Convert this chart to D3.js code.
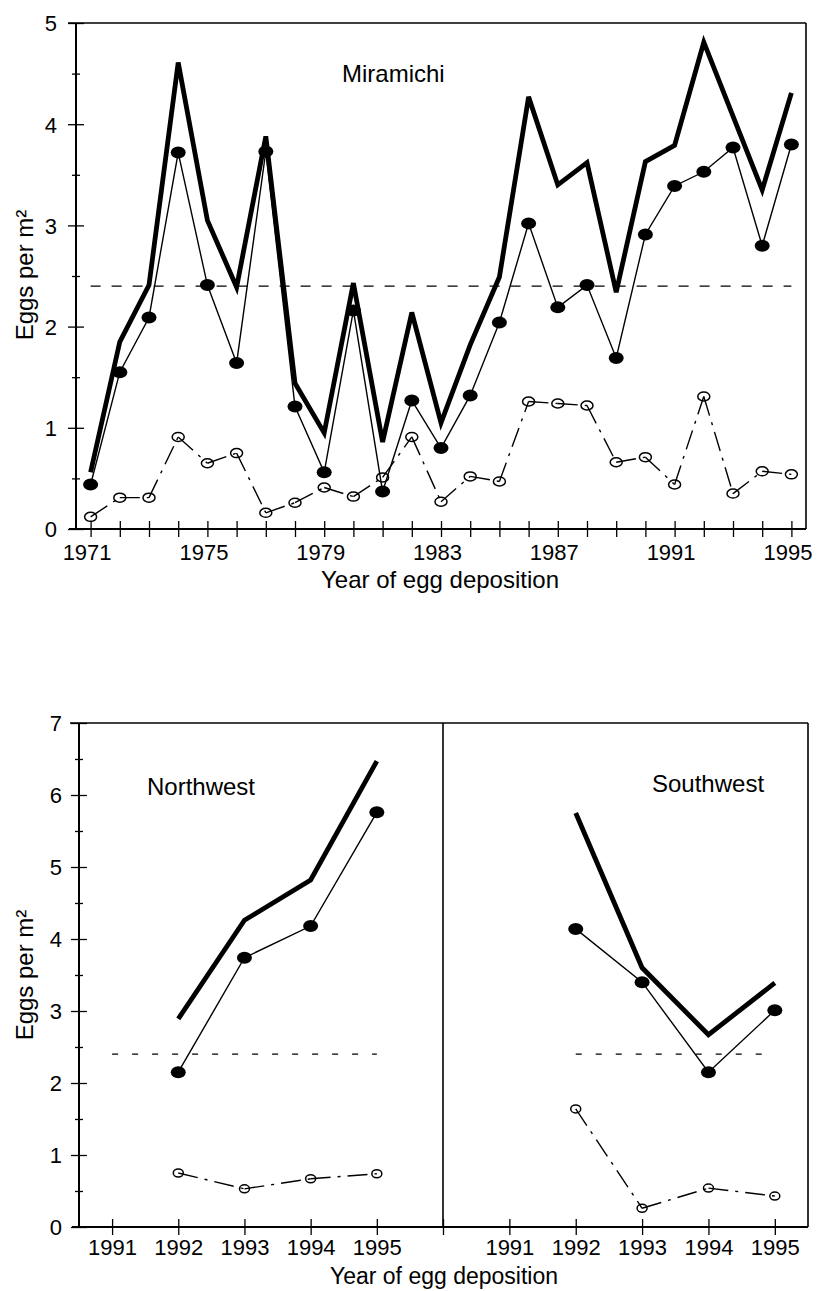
<!DOCTYPE html>
<html>
<head>
<meta charset="utf-8">
<script src="https://cdn.jsdelivr.net/npm/d3@7"></script>
<style>
  body { margin: 0; background: #fff; }
  svg { display: block; font-family: "Liberation Sans", Arial, Helvetica, sans-serif; }
  .tick text { font-size: 22px; fill: #000; }
  .lbl { font-size: 24px; fill: #000; }
</style>
</head>
<body>
<svg id="chart" width="817" height="1291"></svg>
<script>
// Miramichi, 1971-1995
const miraYears = [1971, 1972, 1973, 1974, 1975, 1976, 1977, 1978, 1979, 1980, 1981, 1982, 1983,
  1984, 1985, 1986, 1987, 1988, 1989, 1990, 1991, 1992, 1993, 1994, 1995];
const miraTotal = [0.56, 1.85, 2.41, 4.61, 3.05, 2.39, 3.88, 1.44, 0.95, 2.43, 0.86, 2.14, 1.05,
  1.82, 2.49, 4.27, 3.40, 3.62, 2.34, 3.63, 3.79, 4.81, 4.08, 3.35, 4.31];
const miraFilled = [0.44, 1.55, 2.09, 3.72, 2.41, 1.64, 3.73, 1.21, 0.56, 2.16, 0.37, 1.27, 0.80,
  1.32, 2.04, 3.02, 2.19, 2.41, 1.69, 2.91, 3.39, 3.53, 3.77, 2.80, 3.80];
const miraOpen = [0.12, 0.31, 0.31, 0.91, 0.65, 0.75, 0.16, 0.26, 0.41, 0.32, 0.51, 0.91, 0.27,
  0.52, 0.47, 1.26, 1.24, 1.22, 0.66, 0.71, 0.44, 1.31, 0.35, 0.57, 0.54];
const miraTickLabels = [1971, 1975, 1979, 1983, 1987, 1991, 1995];

// Northwest and Southwest, 1992-1995
const regionYears = [1992, 1993, 1994, 1995];
const nwTotal = [2.89, 4.26, 4.82, 6.47];
const nwFilled = [2.15, 3.74, 4.18, 5.76];
const nwOpen = [0.75, 0.53, 0.67, 0.74];
const swTotal = [5.75, 3.60, 2.67, 3.39];
const swFilled = [4.14, 3.40, 2.15, 3.01];
const swOpen = [1.64, 0.26, 0.54, 0.43];
const regionTickLabels = [1991, 1992, 1993, 1994, 1995];

// reference level (dashed)
const refLevel = 2.4;

const svg = d3.select("#chart");

function crossTicks(axisG, orient, minor) {
  axisG.select(".domain").remove();
  axisG.selectAll(".tick line").each(function(d) {
    const len = minor && !Number.isInteger(d) ? 4 : 8;
    const l = d3.select(this).attr("stroke", "#000").attr("stroke-width", 1.3);
    if (orient === "x") l.attr("y1", -len).attr("y2", len);
    else l.attr("x1", -len).attr("x2", len);
  });
}

function drawSeries(g, x, y, years, total, filled, open, o) {
  const line = d3.line().x((d, i) => x(years[i])).y(d => y(d));

  g.append("path").datum(total)
    .attr("d", line).attr("fill", "none").attr("stroke", "#000")
    .attr("stroke-width", 4.8).attr("stroke-linejoin", "miter");

  g.append("path").datum(filled)
    .attr("d", line).attr("fill", "none").attr("stroke", "#000").attr("stroke-width", 1.4);

  // open series: each segment restarts its dash pattern
  const segs = d3.pairs(open.map((v, i) => [years[i], v]));
  g.selectAll(".oseg").data(segs).enter().append("line")
    .attr("x1", d => x(d[0][0])).attr("y1", d => y(d[0][1]))
    .attr("x2", d => x(d[1][0])).attr("y2", d => y(d[1][1]))
    .attr("stroke", "#000").attr("stroke-width", 1.4)
    .attr("stroke-dasharray", "20,7,3,7");

  g.selectAll(".fdot").data(filled).enter().append("ellipse")
    .attr("cx", (d, i) => x(years[i])).attr("cy", d => y(d))
    .attr("rx", 7.5).attr("ry", 6).attr("fill", "#000");

  g.selectAll(".odot").data(open).enter().append("ellipse")
    .attr("cx", (d, i) => x(years[i])).attr("cy", d => y(d))
    .attr("rx", o.orx).attr("ry", o.ory).attr("fill", "none")
    .attr("stroke", "#000").attr("stroke-width", 1.5);
}

// ---------- top panel: Miramichi ----------
{
  const x = d3.scaleLinear().domain([1970.5, 1995.5]).range([76, 806]);
  const y = d3.scaleLinear().domain([0, 5]).range([529, 23]);
  const g = svg.append("g");

  g.append("line").attr("x1", 68).attr("x2", 806).attr("y1", 23).attr("y2", 23)
    .attr("stroke", "#000").attr("stroke-width", 1.6);
  g.append("line").attr("x1", 806).attr("x2", 806).attr("y1", 23).attr("y2", 529)
    .attr("stroke", "#000").attr("stroke-width", 1.6);
  g.append("line").attr("x1", 69).attr("x2", 806).attr("y1", 529).attr("y2", 529)
    .attr("stroke", "#000").attr("stroke-width", 2);
  g.append("line").attr("x1", 76).attr("x2", 76).attr("y1", 23).attr("y2", 529)
    .attr("stroke", "#000").attr("stroke-width", 2);

  const xa = g.append("g").attr("transform", "translate(0,529)")
    .call(d3.axisBottom(x).tickValues(miraYears).tickSize(8)
      .tickFormat(d => miraTickLabels.includes(d) ? d : ""));
  crossTicks(xa, "x", false);
  xa.selectAll(".tick text").attr("y", 31).attr("dy", 0).attr("dx", -4);

  const ya = g.append("g").attr("transform", "translate(76,0)")
    .call(d3.axisLeft(y).tickValues(d3.range(0, 5.01, 0.5)).tickSize(8)
      .tickFormat(d => Number.isInteger(d) ? d : ""));
  crossTicks(ya, "y", true);
  ya.selectAll(".tick text").attr("x", -19).attr("dy", "0.36em");

  g.append("line")
    .attr("x1", x(1971)).attr("x2", x(1995))
    .attr("y1", y(refLevel)).attr("y2", y(refLevel))
    .attr("stroke", "#000").attr("stroke-width", 1.3).attr("stroke-dasharray", "10,11");

  drawSeries(g, x, y, miraYears, miraTotal, miraFilled, miraOpen, { orx: 6, ory: 4.5 });

  g.append("text").attr("class", "lbl").attr("x", 342).attr("y", 82).text("Miramichi");
  g.append("text").attr("class", "lbl").attr("x", 440).attr("y", 588)
    .attr("text-anchor", "middle").text("Year of egg deposition");
  g.append("text").attr("class", "lbl").attr("text-anchor", "middle")
    .attr("transform", "translate(33,275) rotate(-90)").text("Eggs per m²");
}

// ---------- bottom panels: Northwest / Southwest ----------
{
  const y = d3.scaleLinear().domain([0, 7]).range([1227, 723]);
  const xL = d3.scaleLinear().domain([1990.5, 1996]).range([79, 443]);
  const xR = d3.scaleLinear().domain([1990, 1995.5]).range([443, 808]);
  const g = svg.append("g");

  g.append("line").attr("x1", 70).attr("x2", 808).attr("y1", 723).attr("y2", 723)
    .attr("stroke", "#000").attr("stroke-width", 1.6);
  g.append("line").attr("x1", 808).attr("x2", 808).attr("y1", 723).attr("y2", 1227)
    .attr("stroke", "#000").attr("stroke-width", 1.6);
  g.append("line").attr("x1", 443).attr("x2", 443).attr("y1", 723).attr("y2", 1227)
    .attr("stroke", "#000").attr("stroke-width", 1.6);
  g.append("line").attr("x1", 72).attr("x2", 808).attr("y1", 1227).attr("y2", 1227)
    .attr("stroke", "#000").attr("stroke-width", 2);
  g.append("line").attr("x1", 79).attr("x2", 79).attr("y1", 723).attr("y2", 1227)
    .attr("stroke", "#000").attr("stroke-width", 2);

  const xaL = g.append("g").attr("transform", "translate(0,1227)")
    .call(d3.axisBottom(xL).tickValues(regionTickLabels).tickSize(8).tickFormat(d3.format("d")));
  crossTicks(xaL, "x", false);
  xaL.selectAll(".tick text").attr("y", 28).attr("dy", 0);

  const xaR = g.append("g").attr("transform", "translate(0,1227)")
    .call(d3.axisBottom(xR).tickValues([1990].concat(regionTickLabels)).tickSize(8)
      .tickFormat(d => regionTickLabels.includes(d) ? d : ""));
  crossTicks(xaR, "x", false);
  xaR.selectAll(".tick text").attr("y", 28).attr("dy", 0);

  const ya = g.append("g").attr("transform", "translate(79,0)")
    .call(d3.axisLeft(y).tickValues(d3.range(0, 7.01, 0.5)).tickSize(8)
      .tickFormat(d => Number.isInteger(d) ? d : ""));
  crossTicks(ya, "y", true);
  ya.selectAll(".tick text").attr("x", -17).attr("dy", "0.36em");

  g.append("line")
    .attr("x1", xL(1991)).attr("x2", xL(1995))
    .attr("y1", y(refLevel)).attr("y2", y(refLevel))
    .attr("stroke", "#000").attr("stroke-width", 1.2).attr("stroke-dasharray", "6,14");
  g.append("line")
    .attr("x1", xR(1992)).attr("x2", xR(1995))
    .attr("y1", y(refLevel)).attr("y2", y(refLevel))
    .attr("stroke", "#000").attr("stroke-width", 1.2).attr("stroke-dasharray", "6,14");

  drawSeries(g, xL, y, regionYears, nwTotal, nwFilled, nwOpen, { orx: 5, ory: 4 });
  drawSeries(g, xR, y, regionYears, swTotal, swFilled, swOpen, { orx: 5, ory: 4 });

  g.append("text").attr("class", "lbl").attr("x", 147).attr("y", 795).text("Northwest");
  g.append("text").attr("class", "lbl").attr("x", 652).attr("y", 792).text("Southwest");
  g.append("text").attr("class", "lbl").attr("x", 444).attr("y", 1284)
    .attr("text-anchor", "middle").style("font-size", "23px").text("Year of egg deposition");
  g.append("text").attr("class", "lbl").attr("text-anchor", "middle")
    .attr("transform", "translate(33,975) rotate(-90)").text("Eggs per m²");
}
</script>
</body>
</html>
